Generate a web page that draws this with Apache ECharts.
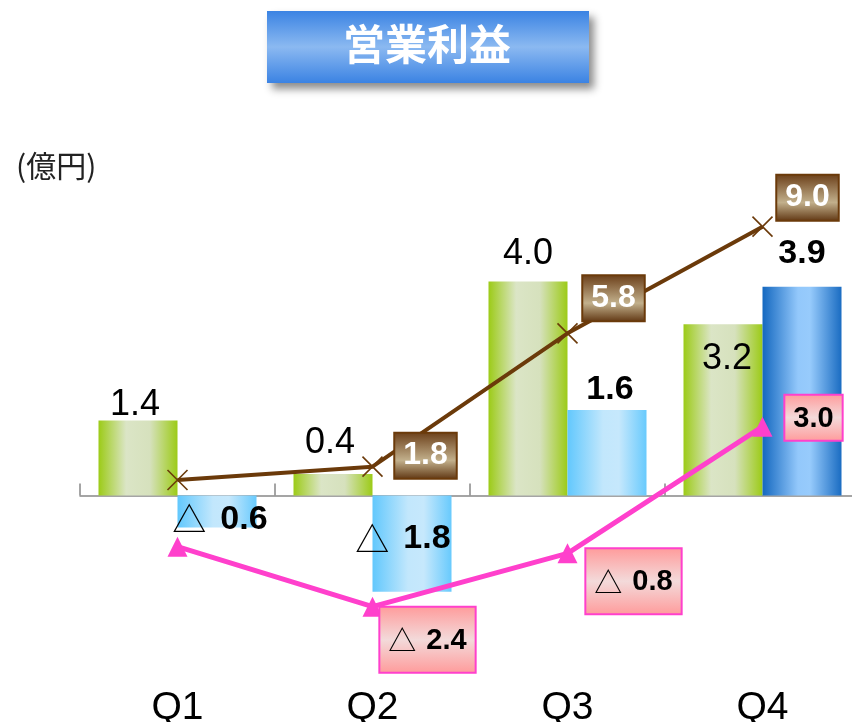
<!DOCTYPE html>
<html>
<head>
<meta charset="utf-8">
<script src="https://cdn.jsdelivr.net/npm/echarts@6/dist/echarts.min.js"></script>
<style>
  html, body { margin: 0; padding: 0; background: #fff; }
  #chart { width: 852px; height: 722px; }
</style>
</head>
<body>
<div id="chart"></div>
<script>
// Quarterly operating profit (億円)
const quarters = ['Q1', 'Q2', 'Q3', 'Q4'];
const prevYear = [1.4, 0.4, 4.0, 3.2];
const thisYear = [-0.6, -1.8, 1.6, 3.9];
const prevCumulative = [1.4, 1.8, 5.8, 9.0];
const thisCumulative = [-0.6, -2.4, -0.8, 3.0];

const G = echarts.graphic.LinearGradient;
const LATIN = 'Liberation Sans, Arial, sans-serif';
const CJK = 'Noto Sans CJK JP, sans-serif';

const fmt = v => v < 0 ? '{t|△}{b|' + Math.abs(v).toFixed(1) + '}' : '{b|' + v.toFixed(1) + '}';

const greenFill = new G(1, 0, 0, 0, [
  { offset: 0, color: '#9ccb17' },
  { offset: 0.35, color: '#d6e1bd' },
  { offset: 0.65, color: '#dbe5c6' },
  { offset: 1, color: '#9ccb17' }
]);
const lightBlueFill = new G(0, 0, 1, 0, [
  { offset: 0, color: '#62c8fd' },
  { offset: 0.45, color: '#c2e7fc' },
  { offset: 0.65, color: '#c6e8fc' },
  { offset: 1, color: '#68cafd' }
]);
const darkBlueFill = new G(0, 0, 1, 0, [
  { offset: 0, color: '#1468c0' },
  { offset: 0.45, color: '#93c8fb' },
  { offset: 0.6, color: '#97cbfc' },
  { offset: 1, color: '#1a6cc2' }
]);

// label offsets per quarter
const greenOffsets = [[-3, 2], [-3, -13], [0, -9], [4, 53]];
const blueLabel = [
  { position: 'inside', offset: [3, 8] },
  { position: 'inside', offset: [-9, -5] },
  { position: 'top', distance: 0, offset: [3, -3] },
  { position: 'top', distance: 0, offset: [0, -16] }
];
const brownOffsets = [null, [53, -11], [46, -35], [45, -29]];
const pinkOffsets = [null, [55, 33], [66, 28], [51, -9]];

const brownBox = new G(0, 0, 0, 1, [
  { offset: 0, color: '#6a3d17' },
  { offset: 0.6, color: '#c2b08c' },
  { offset: 1, color: '#5e3410' }
]);
const pinkBox = () => new G(0, 0, 0, 1, [
  { offset: 0, color: '#ff9a9a' },
  { offset: 0.5, color: '#f3dada' },
  { offset: 1, color: '#ff9a9a' }
]);

const chart = echarts.init(document.getElementById('chart'));

chart.setOption({
  animation: false,
  backgroundColor: '#ffffff',
  graphic: [
    {
      type: 'rect',
      x: 267, y: 11,
      shape: { width: 322, height: 72 },
      style: {
        fill: new G(0, 0, 0, 1, [
          { offset: 0, color: '#3b83e3' },
          { offset: 0.5, color: '#8bb9f1' },
          { offset: 1, color: '#3b83e3' }
        ]),
        shadowBlur: 8, shadowOffsetX: 5, shadowOffsetY: 6,
        shadowColor: 'rgba(0,0,0,0.45)'
      }
    },
    {
      type: 'text',
      x: 427, y: 44,
      style: {
        text: '営業利益', fill: '#ffffff',
        font: 'bold 42px ' + CJK,
        textAlign: 'center', textVerticalAlign: 'middle',
        align: 'center', verticalAlign: 'middle'
      }
    },
    {
      type: 'text',
      x: 16, y: 166,
      style: {
        text: '(億円)', fill: '#222',
        font: '30px ' + CJK,
        textVerticalAlign: 'middle', verticalAlign: 'middle'
      }
    }
  ],
  grid: { left: 80, width: 780, top: 120, height: 540, outerBoundsMode: 'none', containLabel: false },
  xAxis: [
    {
      // zero line with boundary ticks
      type: 'category',
      data: quarters,
      axisLine: { show: true, onZero: true, lineStyle: { color: '#888', width: 1.5 } },
      axisTick: { show: true, inside: true, length: 12, lineStyle: { color: '#888', width: 1.5 } },
      axisLabel: { show: false }
    },
    {
      // quarter names along the bottom
      type: 'category',
      data: quarters,
      position: 'bottom',
      axisLine: { show: false, onZero: false },
      axisTick: { show: false },
      axisLabel: { show: true, margin: 29, fontSize: 39, color: '#000', fontFamily: LATIN }
    }
  ],
  yAxis: [
    { type: 'value', min: -3.0748, max: 7.0187, show: false, splitLine: { show: false } },
    { type: 'value', min: -4.0, max: 12.2, show: false, splitLine: { show: false } }
  ],
  series: [
    {
      name: '前期',
      type: 'bar',
      barWidth: 79,
      barGap: '0%',
      itemStyle: { color: greenFill },
      data: prevYear.map((v, i) => ({
        value: v,
        label: {
          show: true, position: 'top', distance: 0, offset: greenOffsets[i],
          formatter: p => p.value.toFixed(1),
          fontSize: 36, color: '#000', fontFamily: LATIN
        }
      }))
    },
    {
      name: '当期',
      type: 'bar',
      barWidth: 79,
      barGap: '0%',
      data: thisYear.map((v, i) => ({
        value: v,
        itemStyle: { color: i === 3 ? darkBlueFill : lightBlueFill },
        label: Object.assign({
          show: true,
          formatter: p => fmt(p.value),
          rich: {
            t: { fontSize: 34, fontFamily: CJK, color: '#000', padding: [0, 14, 0, 0] },
            b: { fontSize: 34, fontWeight: 'bold', fontFamily: LATIN, color: '#000' }
          }
        }, blueLabel[i])
      }))
    },
    {
      name: '前期累計',
      type: 'line',
      yAxisIndex: 1,
      z: 5,
      symbol: 'path://M0,0L20,20M20,0L0,20',
      symbolSize: 20,
      itemStyle: { color: 'none', borderColor: '#6b3a0a', borderWidth: 1.6 },
      lineStyle: { color: '#6b3a0a', width: 4 },
      data: prevCumulative.map((v, i) => ({
        value: v,
        label: brownOffsets[i] ? {
          show: true, position: 'inside', offset: brownOffsets[i],
          formatter: p => p.value.toFixed(1),
          fontSize: 32, fontWeight: 'bold', color: '#ffffff', fontFamily: LATIN,
          backgroundColor: brownBox, borderColor: '#6b3a0a', borderWidth: 2,
          padding: [6, 8, 4, 8], lineHeight: 34
        } : { show: false }
      }))
    },
    {
      name: '当期累計',
      type: 'line',
      yAxisIndex: 1,
      z: 5,
      symbol: 'triangle',
      symbolSize: 20,
      itemStyle: { color: '#ff40cc' },
      lineStyle: { color: '#ff40cc', width: 5 },
      data: thisCumulative.map((v, i) => ({
        value: v,
        label: pinkOffsets[i] ? {
          show: true, position: 'inside', offset: pinkOffsets[i],
          formatter: p => fmt(p.value),
          backgroundColor: pinkBox(), borderColor: '#ff40cc', borderWidth: 2,
          padding: v < 0 ? [17, 8, 15, 8] : [7, 8, 5, 8],
          lineHeight: 32,
          rich: {
            t: { fontSize: 28, fontFamily: CJK, color: '#000', lineHeight: 32, padding: [0, 10, 0, 0] },
            b: { fontSize: 29, fontWeight: 'bold', fontFamily: LATIN, color: '#000', lineHeight: 32 }
          }
        } : { show: false }
      }))
    }
  ]
});
</script>
</body>
</html>
